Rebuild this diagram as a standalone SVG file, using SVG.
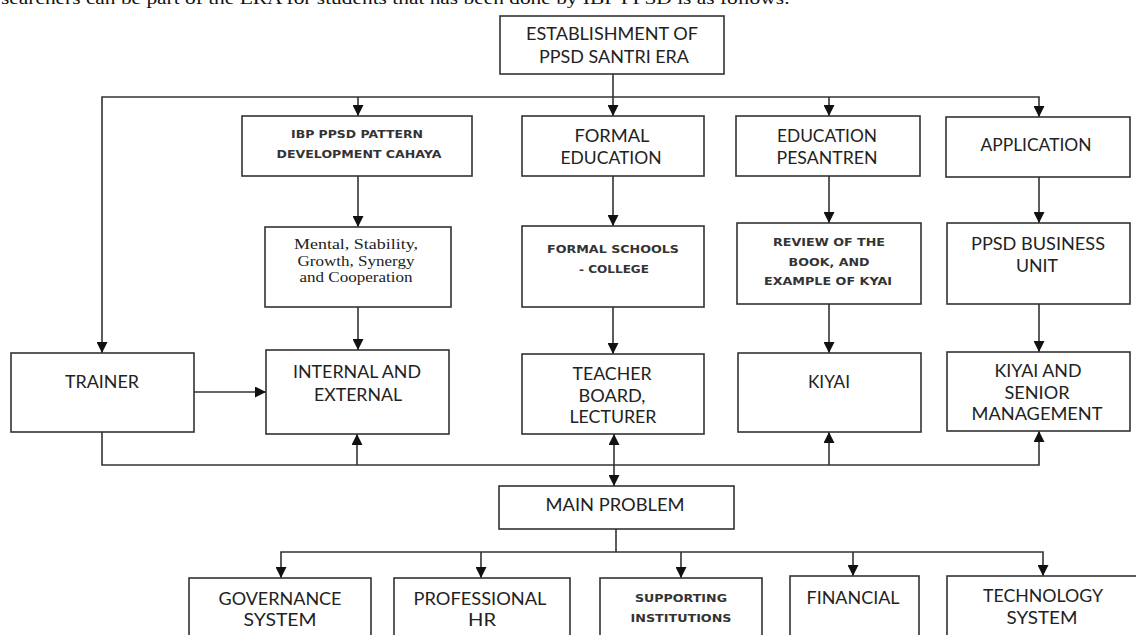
<svg xmlns="http://www.w3.org/2000/svg" width="1136" height="635" viewBox="0 0 1136 635">
<style>
.box{fill:#fff;stroke:#333;stroke-width:1.6}
.c{fill:none;stroke:#333;stroke-width:1.6}
.t{font-family:Lato,"Liberation Sans",sans-serif;font-size:16.5px;fill:#222;text-anchor:middle}
.s{font-family:"DejaVu Sans",sans-serif;font-size:10px;font-weight:bold;fill:#333;text-anchor:middle}
.r{font-family:"Liberation Serif",serif;font-size:14.5px;fill:#222;text-anchor:middle}
.top{font-family:"Liberation Serif",serif;font-size:17px;fill:#111}
</style>
<defs>
<marker id="ah" viewBox="0 0 10 10" refX="10" refY="5" markerWidth="11" markerHeight="11" markerUnits="userSpaceOnUse" orient="auto-start-reverse">
<path d="M0,0 L10,5 L0,10 z" fill="#111"/>
</marker>
</defs>
<rect width="1136" height="635" fill="#fff"/>
<text class="top" x="1" y="4" textLength="789" lengthAdjust="spacingAndGlyphs">searchers can be part of the ERA for students that has been done by IBP PPSD is as follows:</text>

<g id="connectors">
<path class="c" d="M613,74 V116" marker-end="url(#ah)"/>
<path class="c" d="M102,353 V97 H1039 V117" marker-start="url(#ah)" marker-end="url(#ah)"/>
<path class="c" d="M358,97 V116" marker-end="url(#ah)"/>
<path class="c" d="M829,97 V116" marker-end="url(#ah)"/>
<path class="c" d="M358,176 V227" marker-end="url(#ah)"/>
<path class="c" d="M358,307 V350" marker-end="url(#ah)"/>
<path class="c" d="M613,176 V226" marker-end="url(#ah)"/>
<path class="c" d="M613,307 V354" marker-end="url(#ah)"/>
<path class="c" d="M829,176 V223" marker-end="url(#ah)"/>
<path class="c" d="M829,304 V353" marker-end="url(#ah)"/>
<path class="c" d="M1039,177 V223" marker-end="url(#ah)"/>
<path class="c" d="M1039,304 V352" marker-end="url(#ah)"/>
<path class="c" d="M194,392 H266" marker-end="url(#ah)"/>
<path class="c" d="M102,432 V465 H1039 V431" marker-end="url(#ah)"/>
<path class="c" d="M357,465 V434" marker-end="url(#ah)"/>
<path class="c" d="M829,465 V432" marker-end="url(#ah)"/>
<path class="c" d="M614,434 V486" marker-start="url(#ah)" marker-end="url(#ah)"/>
<path class="c" d="M616,529 V552"/>
<path class="c" d="M281,578 V552 H1043 V576" marker-start="url(#ah)" marker-end="url(#ah)"/>
<path class="c" d="M481,552 V578" marker-end="url(#ah)"/>
<path class="c" d="M681,552 V578" marker-end="url(#ah)"/>
<path class="c" d="M853,552 V576" marker-end="url(#ah)"/>
</g>

<g id="establishment">
<rect class="box" x="500" y="16" width="224" height="58"/>
<text class="t" x="612" y="40" textLength="172" lengthAdjust="spacingAndGlyphs">ESTABLISHMENT OF</text>
<text class="t" x="614" y="63" textLength="150" lengthAdjust="spacingAndGlyphs">PPSD SANTRI ERA</text>
</g>

<g id="ibp">
<rect class="box" x="242" y="116" width="230" height="60"/>
<text class="s" x="357" y="138" textLength="132" lengthAdjust="spacingAndGlyphs">IBP PPSD PATTERN</text>
<text class="s" x="359" y="158" textLength="165" lengthAdjust="spacingAndGlyphs">DEVELOPMENT CAHAYA</text>
</g>

<g id="formal-education">
<rect class="box" x="522" y="116" width="182" height="60"/>
<text class="t" x="612" y="142" textLength="75" lengthAdjust="spacingAndGlyphs">FORMAL</text>
<text class="t" x="611" y="164" textLength="101" lengthAdjust="spacingAndGlyphs">EDUCATION</text>
</g>

<g id="education-pesantren">
<rect class="box" x="736" y="116" width="184" height="60"/>
<text class="t" x="827" y="142" textLength="100" lengthAdjust="spacingAndGlyphs">EDUCATION</text>
<text class="t" x="827" y="164" textLength="101" lengthAdjust="spacingAndGlyphs">PESANTREN</text>
</g>

<g id="application">
<rect class="box" x="946" y="117" width="184" height="60"/>
<text class="t" x="1036" y="151" textLength="111" lengthAdjust="spacingAndGlyphs">APPLICATION</text>
</g>

<g id="mental">
<rect class="box" x="265" y="227" width="186" height="80"/>
<text class="r" x="356" y="249" textLength="124" lengthAdjust="spacingAndGlyphs">Mental, Stability,</text>
<text class="r" x="356" y="266" textLength="117" lengthAdjust="spacingAndGlyphs">Growth, Synergy</text>
<text class="r" x="356" y="282" textLength="113" lengthAdjust="spacingAndGlyphs">and Cooperation</text>
</g>

<g id="formal-schools">
<rect class="box" x="522" y="226" width="182" height="81"/>
<text class="s" x="613" y="253" textLength="132" lengthAdjust="spacingAndGlyphs">FORMAL SCHOOLS</text>
<text class="s" x="614" y="273" textLength="70" lengthAdjust="spacingAndGlyphs">- COLLEGE</text>
</g>

<g id="review">
<rect class="box" x="737" y="223" width="184" height="81"/>
<text class="s" x="829" y="246" textLength="112" lengthAdjust="spacingAndGlyphs">REVIEW OF THE</text>
<text class="s" x="829" y="266" textLength="81" lengthAdjust="spacingAndGlyphs">BOOK, AND</text>
<text class="s" x="828" y="285" textLength="128" lengthAdjust="spacingAndGlyphs">EXAMPLE OF KYAI</text>
</g>

<g id="business-unit">
<rect class="box" x="947" y="223" width="183" height="81"/>
<text class="t" x="1038" y="250" textLength="134" lengthAdjust="spacingAndGlyphs">PPSD BUSINESS</text>
<text class="t" x="1037" y="272" textLength="42" lengthAdjust="spacingAndGlyphs">UNIT</text>
</g>

<g id="trainer">
<rect class="box" x="11" y="353" width="183" height="79"/>
<text class="t" x="102" y="388" textLength="74" lengthAdjust="spacingAndGlyphs">TRAINER</text>
</g>

<g id="internal-external">
<rect class="box" x="266" y="350" width="183" height="84"/>
<text class="t" x="357" y="378" textLength="128" lengthAdjust="spacingAndGlyphs">INTERNAL AND</text>
<text class="t" x="358" y="401" textLength="88" lengthAdjust="spacingAndGlyphs">EXTERNAL</text>
</g>

<g id="teacher">
<rect class="box" x="522" y="354" width="182" height="80"/>
<text class="t" x="612" y="380" textLength="79" lengthAdjust="spacingAndGlyphs">TEACHER</text>
<text class="t" x="612" y="402" textLength="67" lengthAdjust="spacingAndGlyphs">BOARD,</text>
<text class="t" x="613" y="423" textLength="87" lengthAdjust="spacingAndGlyphs">LECTURER</text>
</g>

<g id="kiyai">
<rect class="box" x="738" y="353" width="183" height="79"/>
<text class="t" x="829" y="388" textLength="42" lengthAdjust="spacingAndGlyphs">KIYAI</text>
</g>

<g id="kiyai-senior">
<rect class="box" x="947" y="352" width="183" height="79"/>
<text class="t" x="1038" y="377" textLength="87" lengthAdjust="spacingAndGlyphs">KIYAI AND</text>
<text class="t" x="1037" y="399" textLength="65" lengthAdjust="spacingAndGlyphs">SENIOR</text>
<text class="t" x="1037" y="420" textLength="131" lengthAdjust="spacingAndGlyphs">MANAGEMENT</text>
</g>

<g id="main-problem">
<rect class="box" x="499" y="486" width="235" height="43"/>
<text class="t" x="615" y="511" textLength="139" lengthAdjust="spacingAndGlyphs">MAIN PROBLEM</text>
</g>

<g id="governance">
<rect class="box" x="189" y="578" width="182" height="72"/>
<text class="t" x="280" y="605" textLength="123" lengthAdjust="spacingAndGlyphs">GOVERNANCE</text>
<text class="t" x="280" y="626" textLength="73" lengthAdjust="spacingAndGlyphs">SYSTEM</text>
</g>

<g id="professional-hr">
<rect class="box" x="394" y="578" width="176" height="72"/>
<text class="t" x="480" y="605" textLength="133" lengthAdjust="spacingAndGlyphs">PROFESSIONAL</text>
<text class="t" x="482" y="626" textLength="28" lengthAdjust="spacingAndGlyphs">HR</text>
</g>

<g id="supporting">
<rect class="box" x="600" y="578" width="162" height="72"/>
<text class="s" x="681" y="602" textLength="92" lengthAdjust="spacingAndGlyphs">SUPPORTING</text>
<text class="s" x="681" y="622" textLength="101" lengthAdjust="spacingAndGlyphs">INSTITUTIONS</text>
</g>

<g id="financial">
<rect class="box" x="790" y="576" width="129" height="74"/>
<text class="t" x="853" y="604" textLength="93" lengthAdjust="spacingAndGlyphs">FINANCIAL</text>
</g>

<g id="technology">
<rect class="box" x="947" y="576" width="193" height="74"/>
<text class="t" x="1043" y="602" textLength="120" lengthAdjust="spacingAndGlyphs">TECHNOLOGY</text>
<text class="t" x="1042" y="624" textLength="71" lengthAdjust="spacingAndGlyphs">SYSTEM</text>
</g>
</svg>
